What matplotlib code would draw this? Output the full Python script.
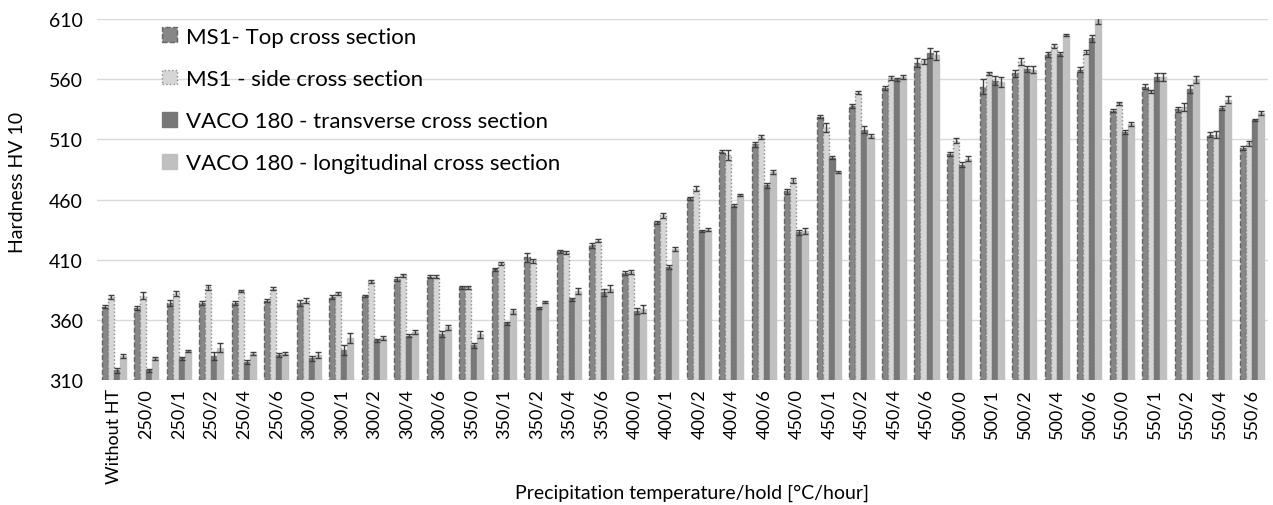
import numpy as np
import matplotlib
matplotlib.use('Agg')
import matplotlib.pyplot as plt

plt.rcParams['font.family'] = ['Lato', 'DejaVu Sans']

categories = ['Without HT',
              '250/0', '250/1', '250/2', '250/4', '250/6',
              '300/0', '300/1', '300/2', '300/4', '300/6',
              '350/0', '350/1', '350/2', '350/4', '350/6',
              '400/0', '400/1', '400/2', '400/4', '400/6',
              '450/0', '450/1', '450/2', '450/4', '450/6',
              '500/0', '500/1', '500/2', '500/4', '500/6',
              '550/0', '550/1', '550/2', '550/4', '550/6']

labels = ['MS1- Top cross section',
          'MS1 - side cross section',
          'VACO 180 - transverse cross section',
          'VACO 180 - longitudinal cross section']

ms1_top = [371, 370, 374, 374, 374, 376, 374, 379, 380, 394, 396, 387, 402, 412, 417, 422, 399, 441,
           461, 500, 506, 467, 529, 538, 553, 574, 498, 554, 565, 581, 568, 534, 554, 535, 514, 503]
ms1_side = [379, 380, 382, 387, 384, 386, 376, 382, 392, 397, 396, 387, 407, 409, 416, 426, 400, 447,
            469, 497, 512, 476, 520, 549, 561, 575, 509, 565, 575, 588, 583, 540, 550, 537, 514, 507]
vaco_trans = [318, 318, 328, 330, 325, 331, 328, 335, 343, 347, 348, 339, 357, 370, 377, 383, 367, 404,
              434, 455, 472, 433, 495, 518, 560, 582, 489, 559, 569, 581, 594, 516, 562, 552, 536, 526]
vaco_long = [330, 328, 334, 337, 332, 332, 331, 345, 345, 350, 354, 348, 367, 375, 384, 386, 369, 419,
             435, 464, 483, 434, 483, 513, 562, 580, 494, 558, 568, 597, 610, 523, 562, 560, 543, 532]

err_top = [1.5, 1.5, 2.5, 2, 1.5, 1.5, 2.5, 1.5, 1, 1.5, 1, 1, 1.5, 4, 1.5, 2, 1.5, 1.5,
           1.5, 1.5, 2, 2, 1.5, 1.5, 1.5, 4, 1.5, 6, 3, 2, 2, 1.5, 2, 2, 2, 2]
err_side = [1.5, 3, 2, 2, 1, 1, 2, 1.5, 1, 1.5, 1, 1, 1.5, 1.5, 1.5, 1.5, 1.5, 2,
            2, 4, 2, 2, 4, 1.5, 1.5, 2, 2, 1.5, 3, 1.5, 1.5, 1, 1.5, 3, 3, 2]
err_trans = [2, 1, 1, 3, 2, 1.5, 2, 4, 1.5, 1.5, 2.5, 2, 1, 1, 1, 3, 2.5, 1.5,
             1, 1, 2, 2, 1, 3, 1.5, 4, 2, 4, 2.5, 1.5, 3, 1.5, 3, 3, 1.5, 1]
err_long = [1.5, 1, 1, 4, 1.5, 1.5, 2.5, 4, 2, 2, 2, 3, 2, 1, 2.5, 3, 3, 1.5,
            1.5, 1, 2, 2.5, 1, 1.5, 1.5, 4, 2, 4, 3, 1, 4, 1.5, 3, 3, 3, 1.5]

series = [ms1_top, ms1_side, vaco_trans, vaco_long]
errors = [err_top, err_side, err_trans, err_long]
faces = ['#878787', '#d6d6d6', '#787878', '#c0c0c0']
edges = ['#666666', '#8a8a8a', '#787878', '#c0c0c0']
styles = ['--', ':', '-', '-']

fig = plt.figure(figsize=(12.73, 5.06), dpi=100)
ax = fig.add_axes([0.076, 0.247, 0.92, 0.713])

x = np.arange(len(categories))
w = 0.185
bottom = 310
for i, (vals, err) in enumerate(zip(series, errors)):
    pos = x + (i - 1.5) * w
    ax.bar(pos, np.array(vals) - bottom, w, bottom=bottom, color=faces[i],
           edgecolor=edges[i], linestyle=styles[i], linewidth=1.0, label=labels[i],
           yerr=err, error_kw=dict(ecolor='#404040', elinewidth=1, capsize=2.2, capthick=1),
           zorder=3)

ax.set_ylim(310, 610)
ax.set_xlim(-0.52, 35.5)
ax.set_yticks(range(310, 611, 50))
ax.set_xticks(x)
ax.set_xticklabels(categories, rotation=90, fontsize=13)
ax.tick_params(axis='y', labelsize=14, length=0, pad=10)
ax.tick_params(axis='x', length=0, pad=6)
ax.grid(axis='y', color='#d9d9d9', linewidth=1, zorder=0)
for s in ax.spines.values():
    s.set_visible(False)

ax.set_ylabel('Hardness HV 10', fontsize=14)
ax.yaxis.set_label_coords(-0.06, 0.551)
fig.text(692 / 1273, 1 - 493 / 506, 'Precipitation temperature/hold [°C/hour]',
         fontsize=14, ha='center', va='center')

ax.legend(loc='upper left', bbox_to_anchor=(0.039, 1.035), frameon=False, fontsize=16,
          handlelength=0.65, handleheight=0.65, handletextpad=0.4, labelspacing=1.0)

fig.savefig('out.png', dpi=100)
